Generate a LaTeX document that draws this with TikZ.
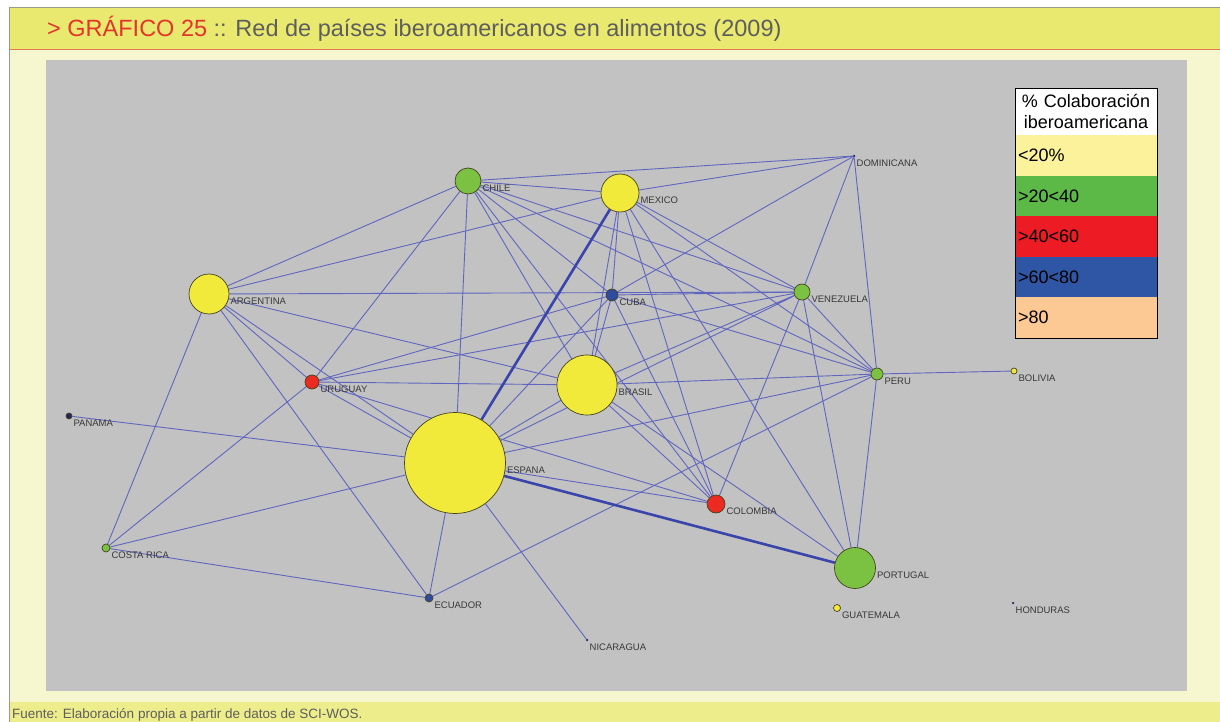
\documentclass[tikz,border=0pt]{standalone}
\usepackage{fontspec}
\setmainfont{Liberation Sans}
\usetikzlibrary{positioning}
\definecolor{plotgray}{HTML}{C2C2C2}
\definecolor{panel}{HTML}{F6F6CF}
\definecolor{bandyellow}{HTML}{E9E86F}
\definecolor{footyellow}{HTML}{EDED8C}
\definecolor{orangeline}{HTML}{E2794F}
\definecolor{framegray}{HTML}{9A9A8A}
\definecolor{titlered}{HTML}{E3352B}
\definecolor{titlegray}{HTML}{5E5E5E}
\definecolor{cyellow}{HTML}{F2EA3B}
\definecolor{cgreen}{HTML}{7CC242}
\definecolor{cred}{HTML}{EB2A22}
\definecolor{cblue}{HTML}{2F4BA0}
\definecolor{cnavy}{HTML}{24245E}
\definecolor{rim}{HTML}{45421E}
\definecolor{linkblue}{HTML}{6066C0}
\definecolor{darkblue}{HTML}{3A45AC}
\definecolor{labgray}{HTML}{383838}
\definecolor{legyellow}{HTML}{FBF29B}
\definecolor{leggreen}{HTML}{5DB947}
\definecolor{legred}{HTML}{ED1C24}
\definecolor{legblue}{HTML}{2F56A5}
\definecolor{legpeach}{HTML}{FCC994}
\pgfdeclarelayer{back}
\pgfdeclarelayer{links}
\pgfsetlayers{back,links,main}
\tikzset {
  % country vertex, size and colour from the data
  main/.style = {draw=rim, circle, inner sep=0pt, line width=0.7pt},
  tiny/.style = {circle, fill=cnavy, inner sep=0pt, minimum size=2.5pt},
  lab/.style = {font=\fontsize{9.5}{9.5}\selectfont, text=labgray, inner sep=1pt, yshift=-7.5pt},
  % co-publication links
  link/.style = {linkblue, line width=0.9pt},
  strong/.style = {darkblue, line width=2.6pt},
  % legend cells
  legcell/.style = {inner xsep=3pt, inner ysep=0pt, outer sep=0pt, text width=136pt, minimum height=40.6pt, font=\fontsize{18}{21}\selectfont},
}

\begin{document}
\begin{tikzpicture}[x=1pt, y=-1pt]
\useasboundingbox (0,0) rectangle (1220,722);
\begin{pgfonlayer}{back}
  \fill[white] (0,0) rectangle (1220,722);
  \fill[panel] (9,49) rectangle (1220,702);
  \fill[bandyellow] (9,8) rectangle (1220,49);
  \fill[footyellow] (9,702) rectangle (1220,722);
  \draw[orangeline, line width=1.5pt] (9,49.5) -- (1220,49.5);
  \draw[framegray, line width=1pt] (9,722) -- (9,8) -- (1220,8);
  \fill[plotgray] (46,60) rectangle (1187,691);
\end{pgfonlayer}

\node[anchor=base west, inner sep=0pt, font=\fontsize{23.5}{23.5}\selectfont, text=titlegray] (title) at (47,37) {\textcolor{titlered}{> GRÁFICO 25} :: Red de países iberoamericanos en alimentos (2009)};
\node[anchor=base west, inner sep=0pt, font=\fontsize{13.5}{13.5}\selectfont, text=titlegray] (src) at (12,718) {Fuente: Elaboración propia a partir de datos de SCI-WOS.};

% countries
\node[main, fill=cgreen, minimum size=26pt, label={[lab]east:CHILE}] (chi) at (468,181) {};
\node[main, fill=cyellow, minimum size=38pt, label={[lab]east:MEXICO}] (mex) at (620,193) {};
\node[tiny, label={[lab]east:DOMINICANA}] (dom) at (854,156) {};
\node[main, fill=cyellow, minimum size=40pt, label={[lab]east:ARGENTINA}] (arg) at (209,294) {};
\node[main, fill=cblue, minimum size=12pt, label={[lab]east:CUBA}] (cub) at (612,295) {};
\node[main, fill=cgreen, minimum size=16pt, label={[lab]east:VENEZUELA}] (ven) at (802,292) {};
\node[main, fill=cred, minimum size=14pt, label={[lab]east:URUGUAY}] (uru) at (312,382) {};
\node[main, fill=cyellow, minimum size=60pt, label={[lab]east:BRASIL}] (bra) at (587,385) {};
\node[main, fill=cgreen, minimum size=12pt, label={[lab]east:PERU}] (per) at (877,374) {};
\node[main, fill=cyellow, minimum size=6pt, label={[lab]east:BOLIVIA}] (bol) at (1014,371) {};
\node[main, fill=cnavy, minimum size=6pt, label={[lab]east:PANAMA}] (pan) at (69,416) {};
\node[main, fill=cyellow, minimum size=101pt, label={[lab]east:ESPANA}] (esp) at (455,463) {};
\node[main, fill=cred, minimum size=18pt, label={[lab]east:COLOMBIA}] (col) at (716,504) {};
\node[main, fill=cgreen, minimum size=8pt, label={[lab]east:COSTA RICA}] (cri) at (106,548) {};
\node[main, fill=cgreen, minimum size=41pt, label={[lab]east:PORTUGAL}] (por) at (855,568) {};
\node[main, fill=cblue, minimum size=8pt, label={[lab]east:ECUADOR}] (ecu) at (429,598) {};
\node[main, fill=cyellow, minimum size=7pt, label={[lab]east:GUATEMALA}] (gua) at (837,608) {};
\node[tiny, label={[lab]east:HONDURAS}] (hon) at (1013,603) {};
\node[tiny, label={[lab]east:NICARAGUA}] (nic) at (587,640) {};

% links
\begin{pgfonlayer}{links}
  \draw[link] (arg) -- (chi) (arg) -- (mex) (arg) -- (ven) (arg) -- (bra) (arg) -- (uru) (arg) -- (esp) (arg) -- (ecu) (arg) -- (cri);
  \draw[link] (chi) -- (mex) (chi) -- (dom) (chi) -- (uru) (chi) -- (esp) (chi) -- (bra) (chi) -- (cub) (chi) -- (ven) (chi) -- (per) (chi) -- (col);
  \draw[link] (mex) -- (dom) (mex) -- (cub) (mex) -- (bra) (mex) -- (ven) (mex) -- (per) (mex) -- (col) (mex) -- (por);
  \draw[link] (cub) -- (dom) (cub) -- (ven) (cub) -- (uru) (cub) -- (bra) (cub) -- (esp) (cub) -- (per) (cub) -- (col);
  \draw[link] (dom) -- (ven) (dom) -- (per);
  \draw[link] (ven) -- (uru) (ven) -- (bra) (ven) -- (esp) (ven) -- (per) (ven) -- (col) (ven) -- (por);
  \draw[link] (per) -- (bol) (per) -- (bra) (per) -- (esp) (per) -- (ecu) (per) -- (por);
  \draw[link] (bra) -- (uru) (bra) -- (esp) (bra) -- (col) (bra) -- (por);
  \draw[link] (esp) -- (uru) (esp) -- (pan) (esp) -- (cri) (esp) -- (ecu) (esp) -- (nic) (esp) -- (col);
  \draw[link] (uru) -- (cri) (uru) -- (col) (cri) -- (ecu);
  \draw[strong] (esp) -- (mex) (esp) -- (por);
\end{pgfonlayer}

% legend
\node[legcell, fill=white, align=center, minimum height=47pt] (leg0) at (1086,111.5) {\% Colaboración\\iberoamericana};
\node[legcell, fill=legyellow, below=0pt of leg0] (leg1) {<20\%};
\node[legcell, fill=leggreen, below=0pt of leg1] (leg2) {>20<40};
\node[legcell, fill=legred, below=0pt of leg2] (leg3) {>40<60};
\node[legcell, fill=legblue, below=0pt of leg3] (leg4) {>60<80};
\node[legcell, fill=legpeach, below=0pt of leg4] (leg5) {>80};
\draw[black, line width=0.8pt] (leg0.north west) rectangle (leg5.south east);
\end{tikzpicture}
\end{document}
